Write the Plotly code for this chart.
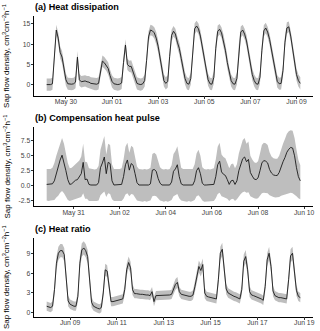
import pandas as pd
import plotly.graph_objects as go
from plotly.subplots import make_subplots

# (a) Heat dissipation - 2-hourly readings starting 2019-05-29 04:00 (one row = one day)
hd_start = '2019-05-29 04:00'
hd_sap = [
    0.0, 0.0, 0.0, 0.2, 7.0, 13.5, 11.5, 8.0, 6.8, 3.5, 1.2, 0.2,
    0.1, 0.1, 0.2, 0.6, 6.8, 1.2, 0.7, 0.8, 0.9, 0.7, 0.6, 0.3,
    0.2, 0.1, 0.1, 0.3, 3.5, 5.8, 5.4, 4.8, 4.0, 2.2, 0.8, 0.2,
    0.1, 0.0, 0.1, 0.4, 5.5, 9.8, 5.0, 4.5, 4.5, 3.0, 1.2, 0.3,
    0.1, 0.0, 0.2, 1.0, 6.0, 11.8, 13.5, 13.3, 12.8, 11.5, 9.5, 6.5,
    3.5, 1.0, 0.3, 0.8, 7.0, 12.2, 13.2, 12.5, 10.5, 9.0, 6.5, 3.8,
    1.5, 0.3, 0.1, 1.5, 9.0, 13.8, 14.5, 13.8, 12.0, 9.5, 6.5, 3.5,
    1.2, 0.2, 0.1, 1.8, 9.0, 13.2, 13.7, 12.8, 11.0, 8.5, 5.5, 2.8,
    1.0, 0.2, 0.1, 1.5, 8.5, 13.0, 13.5, 12.5, 10.8, 8.0, 5.0, 2.5,
    1.0, 0.2, 0.1, 1.8, 8.5, 13.3, 14.0, 13.0, 11.2, 8.5, 5.5, 2.5,
    0.8, 0.2, 0.3, 3.5, 10.5, 14.0, 14.3, 12.0, 8.5, 5.0, 2.5, 1.0,
    0.3,
]
hd_band = [
    1.5, 1.5, 1.5, 1.5, 1.5, 1.3, 1.4, 1.5, 1.5, 1.5, 1.5, 1.5,
    1.5, 1.5, 1.5, 1.5, 1.5, 1.5, 1.4, 1.4, 1.4, 1.4, 1.5, 1.5,
    1.5, 1.5, 1.5, 1.5, 1.5, 1.4, 1.4, 1.4, 1.5, 1.5, 1.5, 1.5,
    1.5, 1.5, 1.5, 1.5, 1.5, 1.4, 1.4, 1.4, 1.5, 1.5, 1.5, 1.5,
    1.5, 1.5, 1.5, 1.5, 1.5, 1.4, 1.3, 1.3, 1.4, 1.5, 1.5, 1.5,
    1.5, 1.5, 1.5, 1.5, 1.5, 1.4, 1.3, 1.3, 1.4, 1.5, 1.5, 1.5,
    1.5, 1.5, 1.5, 1.5, 1.5, 1.4, 1.3, 1.3, 1.4, 1.5, 1.5, 1.5,
    1.5, 1.5, 1.5, 1.5, 1.5, 1.4, 1.3, 1.3, 1.4, 1.5, 1.5, 1.5,
    1.5, 1.5, 1.5, 1.5, 1.5, 1.4, 1.3, 1.3, 1.4, 1.5, 1.5, 1.5,
    1.5, 1.5, 1.5, 1.5, 1.5, 1.4, 1.3, 1.3, 1.4, 1.5, 1.5, 1.5,
    1.5, 1.5, 1.5, 1.5, 1.5, 1.4, 1.3, 1.3, 1.4, 1.5, 1.5, 1.5,
    1.5,
]

# (b) Compensation heat pulse - 2-hourly readings starting 2019-05-29 20:00
chp_start = '2019-05-29 20:00'
chp_sap = [
    0.2, 0.2, 0.2, 0.3, 0.8, 2.0, 3.0, 4.3, 5.1, 4.0, 2.5, 1.0,
    0.2, 0.3, 0.6, 0.9, 1.0, 1.4, 2.0, 3.9, 1.0, 1.1, 0.2, 0.1,
    0.1, 0.1, 0.1, 0.5, 3.0, 3.8, 4.8, 2.0, 3.9, 3.7, 0.8, 0.1,
    0.1, 0.1, 0.1, 0.2, 1.5, 3.5, 4.3, 2.6, 3.7, 3.4, 2.0, 0.5,
    0.1, 0.1, 0.1, 0.1, 0.1, 0.1, 0.3, 2.6, 2.7, 2.4, 1.2, 0.4,
    0.1, 0.1, 0.1, 0.1, 0.1, 0.6, 2.4, 2.8, 3.5, 1.5, 0.3, 0.1,
    0.1, 0.1, 0.1, 0.1, 0.1, 0.8, 2.5, 3.0, 2.0, 0.4, 0.1, 0.1,
    0.1, 0.1, 0.1, 0.2, 1.5, 3.5, 4.1, 2.3, 1.9, 1.7, 1.0, 0.2,
    0.8, 0.9, 0.2, 0.8, 2.5, 3.6, 4.5, 4.8, 4.0, 4.4, 2.2, 1.6,
    1.1, 1.0, 1.3, 2.5, 3.8, 4.2, 4.1, 3.8, 2.7, 2.1, 1.8, 1.7,
    1.7, 2.2, 3.2, 4.0, 4.7, 5.6, 6.1, 6.4, 6.3, 5.0, 3.0, 1.5,
    0.8,
]
chp_upper = [
    2.8, 2.8, 2.8, 3.0, 3.8, 5.0, 6.0, 7.3, 8.0, 7.0, 5.4, 3.8,
    2.9, 3.0, 3.3, 3.6, 3.8, 4.2, 4.9, 7.0, 4.0, 3.9, 2.9, 2.8,
    2.8, 2.7, 2.8, 3.3, 6.0, 7.0, 8.3, 5.2, 7.0, 6.8, 3.6, 2.8,
    2.8, 2.7, 2.8, 2.9, 4.4, 6.5, 7.2, 5.5, 6.7, 6.4, 4.9, 3.2,
    2.8, 2.7, 2.7, 2.8, 2.7, 2.8, 3.0, 5.3, 5.5, 5.2, 4.0, 3.1,
    2.8, 2.7, 2.8, 2.7, 2.8, 3.4, 5.3, 5.8, 6.6, 4.4, 3.0, 2.8,
    2.8, 2.7, 2.8, 2.7, 2.8, 3.6, 5.4, 6.0, 5.0, 3.1, 2.8, 2.7,
    2.8, 2.7, 2.8, 2.9, 4.4, 6.5, 7.2, 5.2, 4.8, 4.6, 3.8, 2.9,
    3.6, 3.7, 2.9, 3.6, 5.4, 6.6, 7.6, 8.0, 7.0, 7.4, 5.0, 4.4,
    3.9, 3.8, 4.1, 5.4, 6.8, 7.2, 7.1, 6.8, 5.6, 4.9, 4.6, 4.5,
    4.5, 5.0, 6.2, 7.0, 7.8, 8.7, 9.1, 9.3, 9.2, 8.0, 6.0, 4.3,
    3.4,
]
chp_lower = [
    -2.5, -2.6, -2.5, -2.5, -2.4, -2.0, -1.7, -1.2, -0.9, -1.3, -1.9, -2.4,
    -2.6, -2.5, -2.4, -2.3, -2.2, -2.1, -1.9, -1.3, -2.2, -2.2, -2.6, -2.6,
    -2.6, -2.7, -2.6, -2.5, -1.6, -1.3, -1.0, -1.9, -1.3, -1.4, -2.3, -2.6,
    -2.6, -2.7, -2.6, -2.6, -2.2, -1.5, -1.3, -1.8, -1.4, -1.5, -2.0, -2.5,
    -2.6, -2.7, -2.7, -2.6, -2.7, -2.6, -2.5, -1.8, -1.7, -1.8, -2.2, -2.5,
    -2.6, -2.7, -2.6, -2.7, -2.6, -2.4, -1.8, -1.6, -1.4, -2.1, -2.5, -2.6,
    -2.7, -2.7, -2.6, -2.7, -2.6, -2.4, -1.8, -1.6, -2.0, -2.5, -2.7, -2.7,
    -2.6, -2.7, -2.6, -2.6, -2.1, -1.4, -1.2, -1.8, -1.9, -2.0, -2.2, -2.6,
    -2.3, -2.2, -2.6, -2.3, -1.8, -1.4, -1.1, -1.0, -1.2, -1.1, -1.8, -2.0,
    -2.1, -2.2, -2.1, -1.7, -1.3, -1.2, -1.2, -1.3, -1.6, -1.8, -1.9, -2.0,
    -2.0, -1.9, -1.7, -1.6, -1.4, -1.3, -1.2, -1.2, -1.3, -1.5, -1.8, -2.1,
    -2.3,
]

# (c) Heat ratio - 2-hourly readings starting 2019-06-08 00:00
hr_start = '2019-06-08 00:00'
hr_sap = [
    1.0, 0.9, 0.8, 1.0, 3.5, 7.5, 9.0, 9.4, 9.4, 8.8, 5.0, 1.8,
    1.3, 1.1, 1.0, 1.0, 2.5, 7.5, 9.5, 9.8, 9.4, 8.5, 5.0, 1.6,
    1.0, 0.8, 0.7, 0.6, 0.8, 3.0, 6.5, 6.3, 3.5, 1.7, 1.7, 1.8,
    1.9, 2.0, 2.0, 2.1, 3.5, 6.5, 7.6, 6.8, 3.5, 2.9, 2.9, 2.8,
    2.8, 2.8, 2.7, 2.7, 2.7, 2.6, 3.2, 1.7, 2.6, 2.6, 2.6, 2.6,
    2.6, 2.6, 2.6, 2.7, 2.8, 3.5, 4.3, 4.6, 3.2, 2.8, 2.7, 2.7,
    2.6, 2.5, 2.5, 2.7, 4.0, 5.8, 7.0, 6.4, 7.3, 3.0, 2.5, 2.4,
    2.3, 2.3, 2.2, 2.1, 5.0, 9.0, 9.6, 6.5, 3.6, 3.0, 2.8, 2.7,
    2.5, 2.4, 2.3, 2.1, 3.5, 7.8, 8.5, 6.5, 3.2, 2.7, 2.6, 2.5,
    2.4, 2.2, 2.1, 1.9, 4.0, 8.0, 9.0, 7.0, 3.3, 2.6, 2.4, 2.3,
    2.3, 2.2, 2.1, 2.1, 5.0, 8.6, 9.0, 6.0, 3.4, 2.5, 2.3,
]
hr_band = [
    0.7, 0.7, 0.7, 0.7, 0.9, 1.0, 1.0, 1.0, 1.0, 1.0, 0.9, 0.8,
    0.7, 0.7, 0.7, 0.7, 0.8, 1.0, 1.0, 1.0, 1.0, 1.0, 0.9, 0.8,
    0.7, 0.7, 0.7, 0.7, 0.7, 0.8, 0.9, 0.9, 0.8, 0.7, 0.7, 0.7,
    0.7, 0.7, 0.7, 0.7, 0.8, 0.9, 0.9, 0.9, 0.8, 0.7, 0.7, 0.7,
    0.7, 0.7, 0.7, 0.7, 0.7, 0.7, 0.7, 0.7, 0.7, 0.7, 0.7, 0.7,
    0.7, 0.7, 0.7, 0.7, 0.7, 0.8, 0.8, 0.8, 0.7, 0.7, 0.7, 0.7,
    0.7, 0.7, 0.7, 0.7, 0.8, 0.9, 0.9, 0.9, 0.9, 0.8, 0.7, 0.7,
    0.7, 0.7, 0.7, 0.7, 0.9, 1.0, 1.0, 0.9, 0.8, 0.7, 0.7, 0.7,
    0.7, 0.7, 0.7, 0.7, 0.8, 1.0, 1.0, 0.9, 0.8, 0.7, 0.7, 0.7,
    0.7, 0.7, 0.7, 0.7, 0.8, 1.0, 1.0, 0.9, 0.8, 0.7, 0.7, 0.7,
    0.7, 0.7, 0.7, 0.7, 0.9, 1.0, 1.0, 0.9, 0.8, 0.7, 0.7,
]

panel_titles = ['(a) Heat dissipation', '(b) Compensation heat pulse', '(c) Heat ratio']
y_title = 'Sap flow density, cm<sup>3</sup>cm<sup>\u22122</sup>h<sup>\u22121</sup>'
y_ticks = [[0, 5, 10, 15], [-2.5, 0, 2.5, 5, 7.5], [0, 3, 6, 9]]
y_ticktext = [['0', '5', '10', '15'], ['-2.5', '0.0', '2.5', '5.0', '7.5'], ['0', '3', '6', '9']]
y_ranges = [[-2.7, 16.9], [-3.42, 9.83], [-0.55, 11.35]]
x_ticks = [
    ['2019-05-30', '2019-06-01', '2019-06-03', '2019-06-05', '2019-06-07', '2019-06-09'],
    ['2019-05-31', '2019-06-02', '2019-06-04', '2019-06-06', '2019-06-08', '2019-06-10'],
    ['2019-06-09', '2019-06-11', '2019-06-13', '2019-06-15', '2019-06-17', '2019-06-19'],
]

W, H = 320, 331
FONT = 'Liberation Sans, Arial, sans-serif'

series = [
    (hd_start, hd_sap, [v - b for v, b in zip(hd_sap, hd_band)], [v + b for v, b in zip(hd_sap, hd_band)]),
    (chp_start, chp_sap, chp_lower, chp_upper),
    (hr_start, hr_sap, [v - b for v, b in zip(hr_sap, hr_band)], [v + b for v, b in zip(hr_sap, hr_band)]),
]

# panel placement in pixels (top, bottom)
panel_px = [(16.3, 95.5), (127.0, 206.0), (237.7, 316.5)]
title_px = [7.0, 118.0, 229.0]
x_px = (34, 313)

fig = make_subplots(rows=3, cols=1)

for i, (start, sap, lower, upper) in enumerate(series):
    t = pd.date_range(start, periods=len(sap), freq='2h')
    fig.add_trace(go.Scatter(x=t, y=lower, mode='lines', line=dict(width=0),
                             showlegend=False, hoverinfo='skip'), row=i + 1, col=1)
    fig.add_trace(go.Scatter(x=t, y=upper, mode='lines', line=dict(width=0),
                             fill='tonexty', fillcolor='#bebebe',
                             showlegend=False, hoverinfo='skip'), row=i + 1, col=1)
    fig.add_trace(go.Scatter(x=t, y=sap, mode='lines', line=dict(color='#1a1a1a', width=0.9),
                             showlegend=False), row=i + 1, col=1)

    # ggplot-like 5% expansion of the time axis
    span = t[-1] - t[0]
    xr = [t[0] - span * 0.05, t[-1] + span * 0.05]
    top, bot = panel_px[i]
    fig.update_xaxes(range=xr, domain=[x_px[0] / W, x_px[1] / W],
                     tickvals=pd.to_datetime(x_ticks[i]), tickformat='%b %d',
                     row=i + 1, col=1)
    fig.update_yaxes(range=y_ranges[i], domain=[1 - bot / H, 1 - top / H],
                     tickvals=y_ticks[i], ticktext=y_ticktext[i],
                     row=i + 1, col=1)

    fig.add_annotation(text='<b>' + panel_titles[i] + '</b>', xref='paper', yref='paper',
                       x=33 / W, y=1 - title_px[i] / H, xanchor='left', yanchor='middle',
                       showarrow=False, font=dict(size=9.1, color='black', family=FONT))
    fig.add_annotation(text=y_title, xref='paper', yref='paper', textangle=-90,
                       x=6 / W, y=1 - (top + bot) / 2 / H, xanchor='center', yanchor='middle',
                       showarrow=False, font=dict(size=8, color='black', family=FONT))

axis_style = dict(showgrid=False, zeroline=False, showline=True, linecolor='black', linewidth=0.8,
                  ticks='outside', ticklen=2.5, tickwidth=0.7, tickcolor='#333333',
                  tickfont=dict(size=6.8, color='#444444', family=FONT), automargin=False)
fig.update_xaxes(**axis_style, ticklabelstandoff=-3)
fig.update_yaxes(**axis_style, ticklabelstandoff=-1)

fig.update_layout(template='none', width=W, height=H, margin=dict(l=0, r=0, t=0, b=0),
                  plot_bgcolor='white', paper_bgcolor='white', showlegend=False,
                  font=dict(family=FONT, color='black'))

# page body has a default 8px margin; drop it so the figure fills the window
fig.write_html("out.html", config={'displayModeBar': False},
               post_script="document.body.style.margin='0';")
